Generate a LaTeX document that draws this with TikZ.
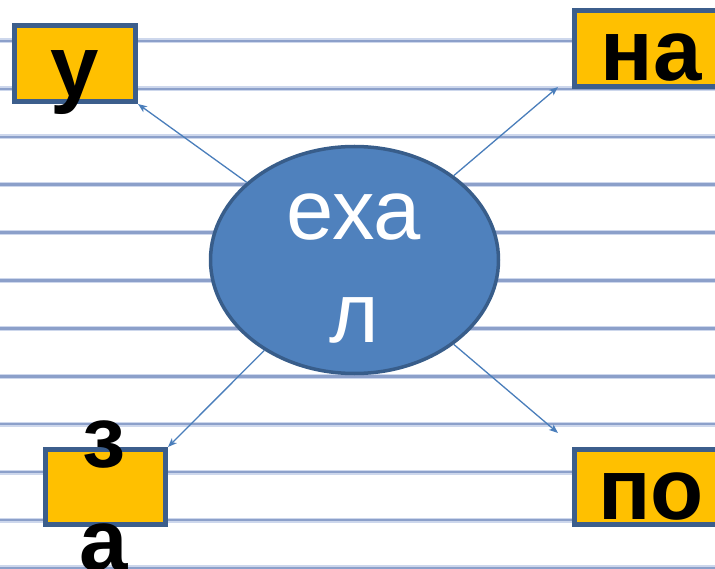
\documentclass[tikz,border=0pt]{standalone}
\usepackage{fontspec}
\setmainfont{Liberation Sans}
\usetikzlibrary{arrows.meta,shapes.geometric}
\definecolor{ruleline}{RGB}{140,160,202}
\definecolor{rulelight}{RGB}{205,215,236}
\definecolor{boxfill}{RGB}{255,192,0}
\definecolor{boxedge}{RGB}{60,94,140}
\definecolor{ellfill}{RGB}{79,129,189}
\definecolor{elledge}{RGB}{56,93,138}
\definecolor{arrowcol}{RGB}{74,126,187}
\begin{document}
\begin{tikzpicture}[x=1pt,y=-1pt,
  wordbox/.style={rectangle, draw=boxedge, fill=boxfill, line width=5pt, inner sep=0pt},
  ellbox/.style={ellipse, draw=elledge, fill=ellfill, line width=3.5pt, inner sep=0pt,
     minimum width=288pt, minimum height=227pt},
  boldword/.style={anchor=base, inner sep=0pt, text=black,
     font=\fontsize{87}{103}\selectfont\bfseries},
  ellword/.style={anchor=base, inner sep=0pt, text=white,
     font=\fontsize{85}{103}\selectfont},
  conn/.style={draw=arrowcol, line width=1.3pt,
     -{Stealth[length=9pt,width=7pt,inset=2.5pt]}}]
\clip (0,0) rectangle (715,569);
\fill[white] (0,0) rectangle (715,569);
% ruled background
\foreach \k in {0,...,11}{
  \pgfmathsetmacro{\yy}{41+47.9*\k}
  \draw[rulelight, line width=5pt] (0,\yy) -- (715,\yy);
  \draw[ruleline, line width=2.4pt] (0,\yy) -- (715,\yy);
}
% shapes
\node[ellbox] (e) at (354.5,260) {};
\node[wordbox, minimum width=121pt, minimum height=76pt] (u) at (75,63.5) {};
\node[wordbox, minimum width=148pt, minimum height=76pt] (na) at (648.5,48.5) {};
\node[wordbox, minimum width=120pt, minimum height=75pt] (za) at (105.5,487) {};
\node[wordbox, minimum width=148pt, minimum height=75pt] (po) at (648.5,487) {};
% connectors
\coordinate (naTip) at (558,87);
\coordinate (poTip) at (558,433);
\draw[conn] (e) -- (u.south east);
\draw[conn] (e) -- (naTip);
\draw[conn] (e) -- (za.north east);
\draw[conn] (e) -- (poTip);
% texts
\node[boldword] (tu) at (75,97) {у};
\node[boldword] (tna) at (651,81) {на};
\node[boldword] (tpo) at (651,519) {по};
\node[boldword] (tz) at (104,467) {з};
\node[boldword] (ta) at (104,570) {а};
\node[ellword] (te1) at (354,240) {еха};
\node[ellword] (te2) at (354,343) {л};
\end{tikzpicture}
\end{document}
